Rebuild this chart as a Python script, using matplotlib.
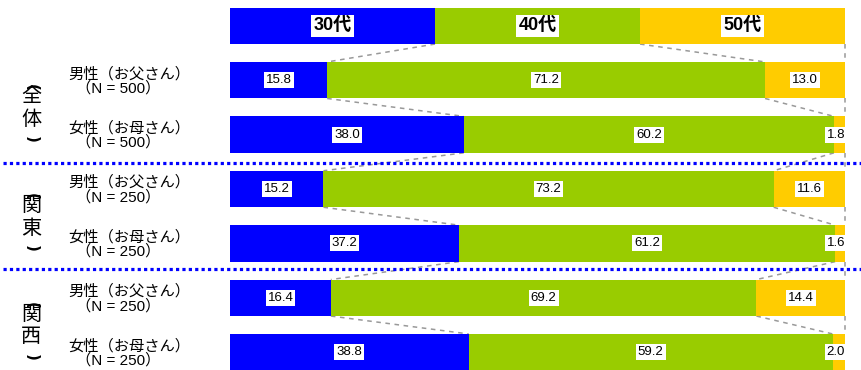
import matplotlib
matplotlib.use("Agg")
import matplotlib.pyplot as plt
from matplotlib.transforms import blended_transform_factory
import numpy as np

plt.rcParams['font.family'] = ['Liberation Sans', 'Noto Sans CJK JP', 'DejaVu Sans']
CJK = ['Noto Sans CJK JP', 'DejaVu Sans']

# ---- data ----
header_labels = ["30代", "40代", "50代"]
row_labels = ["男性（お父さん）", "女性（お母さん）",
              "男性（お父さん）", "女性（お母さん）",
              "男性（お父さん）", "女性（お母さん）"]
n_labels = ["（N = 500）", "（N = 500）", "（N = 250）", "（N = 250）", "（N = 250）", "（N = 250）"]
groups = ["全体", "関東", "関西"]
age30 = [15.8, 38.0, 15.2, 37.2, 16.4, 38.8]
age40 = [71.2, 60.2, 73.2, 61.2, 69.2, 59.2]
age50 = [13.0, 1.8, 11.6, 1.6, 14.4, 2.0]

colors = ["#0000FF", "#99CC00", "#FFCC00"]

W, H = 861, 370
fig = plt.figure(figsize=(W / 100, H / 100), dpi=100)
ax = fig.add_axes([230 / W, 0, 615 / W, 1])
y0, step = 25.8, 54.4
ax.set_ylim((H - y0) / step, -y0 / step)
ax.set_xlim(0, 100)
ax.axis('off')
bh = 36.5 / step

# header bar
hdr = [100 / 3] * 3
left = 0
for i, (v, lab) in enumerate(zip(hdr, header_labels)):
    ax.barh(0, v, left=left, height=bh, color=colors[i], edgecolor='none')
    ax.text(left + v / 2, 0, lab, ha='center', va='center', fontsize=13,
            fontweight='bold', color='black',
            bbox=dict(boxstyle='square,pad=0.12', fc='white', ec='none'))
    left += v

series = np.array([age30, age40, age50]).T
ys = np.arange(1, len(age30) + 1)
for r, y in enumerate(ys):
    left = 0
    for i in range(3):
        v = series[r, i]
        ax.barh(y, v, left=left, height=bh, color=colors[i], edgecolor='none')
        if v < 5:
            ax.text(100, y, f"{v:.1f}", ha='right', va='center', fontsize=9.5,
                    bbox=dict(boxstyle='square,pad=0.15', fc='white', ec='none'))
        else:
            ax.text(left + v / 2, y, f"{v:.1f}", ha='center', va='center', fontsize=9.5,
                    bbox=dict(boxstyle='square,pad=0.15', fc='white', ec='none'))
        left += v

# connectors
cum_rows = [np.cumsum(hdr)] + [np.cumsum(series[r]) for r in range(len(ys))]
all_y = [0] + list(ys)
for k in range(len(all_y) - 1):
    ya = all_y[k] + bh / 2
    yb = all_y[k + 1] - bh / 2
    for j in range(3):
        xa = cum_rows[k][j]
        xb = cum_rows[k + 1][j]
        ax.plot([xa, xb], [ya, yb], color='#999999', lw=1.1,
                dashes=(3, 3), zorder=0.5, clip_on=False)

# separators
tr = blended_transform_factory(fig.transFigure, ax.transData)
for ysep in [(163 - y0) / step, (269 - y0) / step]:
    ax.plot([3 / W, 1.0], [ysep, ysep], transform=tr, color='#0000FF', lw=2.3,
            linestyle=(0, (1.0, 1.0)), dash_capstyle='butt', clip_on=False, zorder=3)

# row labels
for r, y in enumerate(ys):
    ax.text(68 / W, y - 6.5 / step, row_labels[r], transform=tr, ha='left', va='center',
            fontsize=11, family=CJK)
    ax.text(76 / W, y + 8 / step, n_labels[r], transform=tr, ha='left', va='center',
            fontsize=11)

# group labels (vertical)
for g, name in enumerate(groups):
    yc = (ys[2 * g] + ys[2 * g + 1]) / 2
    ax.text(31 / W, yc - 11 / step, name[0], transform=tr, ha='center', va='center',
            fontsize=14.5, family=CJK)
    ax.text(31 / W, yc + 12 / step, name[1], transform=tr, ha='center', va='center',
            fontsize=14.5, family=CJK)
    ax.text(31 / W, yc - 20 / step, "(", transform=tr, ha='center', va='center',
            fontsize=11, family=['DejaVu Sans'], fontweight='bold', rotation=-90)
    ax.text(31 / W, yc + 32 / step, ")", transform=tr, ha='center', va='center',
            fontsize=11, family=['DejaVu Sans'], fontweight='bold', rotation=-90)

fig.savefig("out.png", dpi=100)
